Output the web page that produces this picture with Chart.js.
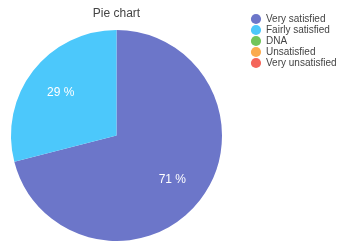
<!DOCTYPE html>
<html>
<head>
<meta charset="utf-8">
<script src="https://cdn.jsdelivr.net/npm/chart.js@4/dist/chart.umd.min.js"></script>
<style>
  html, body { margin: 0; padding: 0; background: #fff; }
  #wrap { width: 338px; height: 241px; }
</style>
</head>
<body>
<div id="wrap"><canvas id="pieChart"></canvas></div>
<script>
const labels = ["Very satisfied", "Fairly satisfied", "DNA", "Unsatisfied", "Very unsatisfied"];
const values = [71, 29, 0, 0, 0];
const colors = ["#6c76c9", "#4cc8fb", "#71c55b", "#fbab4e", "#f4655a"];

// white "NN %" labels inside each slice
const sliceLabels = {
  id: "sliceLabels",
  afterDatasetsDraw(chart) {
    const ctx = chart.ctx;
    const meta = chart.getDatasetMeta(0);
    const total = values.reduce((a, b) => a + b, 0);
    ctx.save();
    ctx.font = "12px 'Liberation Sans', Arial, sans-serif";
    ctx.fillStyle = "#fff";
    ctx.textAlign = "center";
    ctx.textBaseline = "middle";
    meta.data.forEach((arc, i) => {
      if (!values[i]) return;
      const p = arc.getProps(["x", "y", "startAngle", "endAngle", "outerRadius"], true);
      const mid = (p.startAngle + p.endAngle) / 2;
      const r = p.outerRadius * 0.67;
      const pct = Math.round(values[i] / total * 100);
      ctx.fillText(pct + " %", p.x + Math.cos(mid) * r, p.y + Math.sin(mid) * r + 1);
    });
    ctx.restore();
  }
};

// fixed legend column on the right
const legendPlace = {
  id: "legendPlace",
  beforeInit(chart) {
    const fit = chart.legend.fit;
    chart.legend.fit = function () {
      fit.call(this);
      this.width = 105;
    };
  },
  afterLayout(chart) {
    const lg = chart.legend;
    lg.left = chart.chartArea.right + 17;
    lg.top = 13;
  }
};

chart = new Chart(document.getElementById("pieChart"), {
  type: "pie",
  data: {
    labels: labels,
    datasets: [{
      data: values,
      backgroundColor: colors,
      borderWidth: 0
    }]
  },
  options: {
    responsive: true,
    maintainAspectRatio: false,
    animation: false,
    layout: { padding: 0 },
    plugins: {
      title: {
        display: true,
        text: "Pie chart",
        fullSize: false,
        color: "#444",
        font: { family: "'Liberation Sans', Arial, sans-serif", size: 12, weight: "normal" },
        padding: { top: 6, bottom: 9.6 }
      },
      legend: {
        position: "right",
        align: "start",
        labels: {
          usePointStyle: true,
          pointStyle: "circle",
          boxWidth: 10,
          boxHeight: 7.2,
          padding: 1,
          color: "#444",
          font: { family: "'Liberation Sans', Arial, sans-serif", size: 10 }
        }
      },
      tooltip: { enabled: false }
    }
  },
  plugins: [sliceLabels, legendPlace]
});
</script>
</body>
</html>
